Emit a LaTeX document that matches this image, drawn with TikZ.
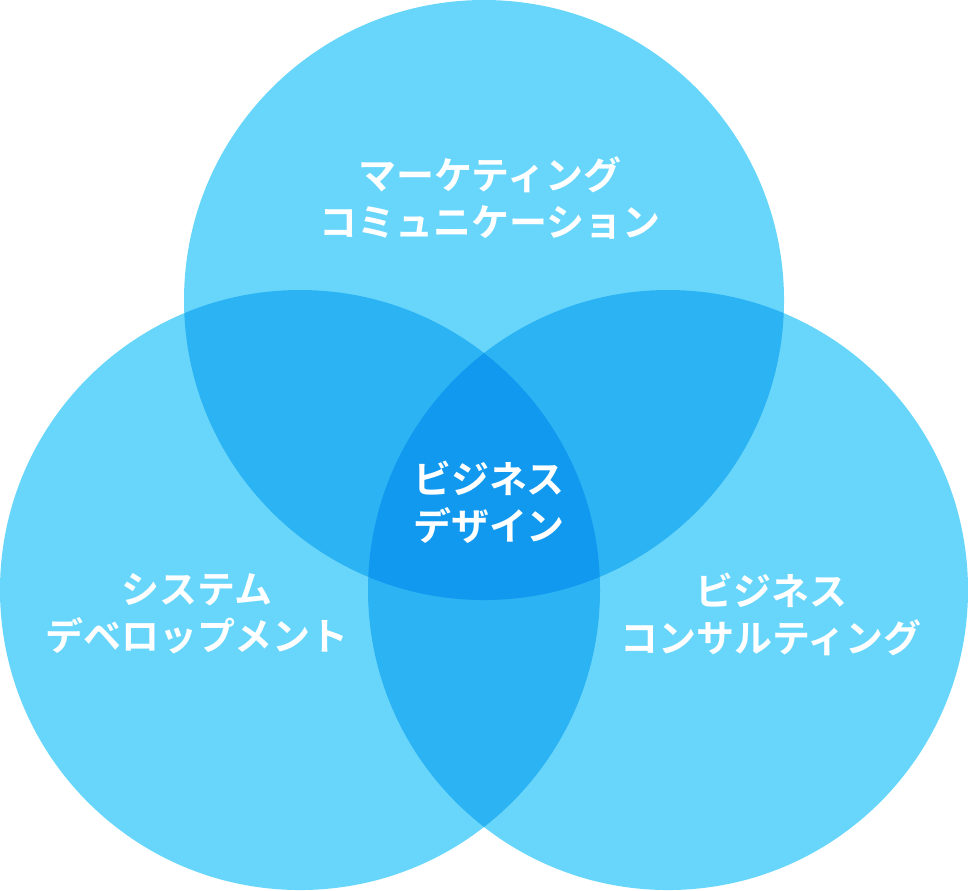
\documentclass[tikz,border=0pt]{standalone}
\usepackage{fontspec}
\newfontfamily\jpfont{Noto Sans CJK JP Bold}
\usepackage{tikz}
\definecolor{onec}{HTML}{68D6FB}
\definecolor{twoc}{HTML}{2CB3F4}
\definecolor{threec}{HTML}{1199EF}
\tikzset{
  one/.style={fill=onec},
  two/.style={fill=twoc},
  three/.style={fill=threec},
  lbl/.style={text=white,font=\jpfont\fontsize{10.8}{13.4}\selectfont,align=center,inner sep=0pt},
}
\begin{document}
\begin{tikzpicture}[x=0.01cm,y=-0.01cm]
\useasboundingbox (0,0) rectangle (968,890);
\foreach \n/\x/\y in {t/484/300,l/300/590,r/668/590} \coordinate (c\n) at (\x,\y);
\foreach \n in {t,l,r} \fill[one] (c\n) circle[radius=300];
\foreach \a/\b in {t/l,t/r,l/r} {
  \begin{scope}
  \clip (c\a) circle[radius=300];
  \fill[two] (c\b) circle[radius=300];
  \end{scope}
}
\begin{scope}
\clip (ct) circle[radius=300];
\clip (cl) circle[radius=300];
\fill[three] (cr) circle[radius=300];
\end{scope}
\node[lbl] (mkt) at (490,198) {マーケティング\\コミュニケーション};
\node[lbl] (biz) at (489,502) {ビジネス\\デザイン};
\node[lbl] (sys) at (197,614) {システム\\デベロップメント};
\node[lbl] (con) at (771,614) {ビジネス\\コンサルティング};
\end{tikzpicture}
\end{document}
